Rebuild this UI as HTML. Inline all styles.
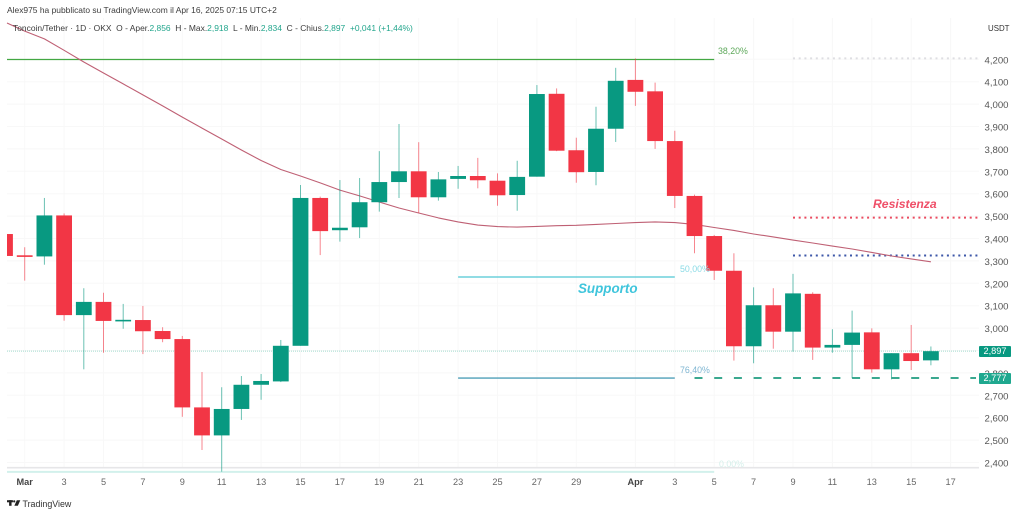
<!DOCTYPE html>
<html lang="it">
<head>
<meta charset="utf-8">
<title>Toncoin/Tether chart</title>
<style>
html,body{margin:0;padding:0;background:#fff;}
#stage{position:relative;width:1024px;height:515px;overflow:hidden;background:#fff;font-family:"Liberation Sans",sans-serif;}
#stage svg{position:absolute;left:0;top:0;}
.t{position:absolute;white-space:nowrap;line-height:12px;}
.g{color:#22a58c;}
</style>
</head>
<body>
<div id="stage">
<svg id="chart" width="1024" height="515" viewBox="0 0 1024 515"></svg>

<div class="t" style="left:7px;top:4px;font-size:8.45px;color:#3c3c3c;">Alex975 ha pubblicato su TradingView.com il Apr 16, 2025 07:15 UTC+2</div>
<div class="t" style="left:13px;top:22px;font-size:8.45px;color:#3c3c3c;">Toncoin/Tether · 1D · OKX &nbsp;O - Aper.<span class="g">2,856</span> &nbsp;H - Max.<span class="g">2,918</span> &nbsp;L - Min.<span class="g">2,834</span> &nbsp;C - Chius.<span class="g">2,897</span> &nbsp;<span class="g">+0,041 (+1,44%)</span></div>
<div class="t" style="left:988px;top:23px;font-size:7.9px;color:#333;">USDT</div>

<div class="t" style="left:718px;top:45px;font-size:8.8px;color:#5da85a;">38,20%</div>
<div class="t" style="left:680px;top:263px;font-size:8.8px;color:#8adbe6;">50,00%</div>
<div class="t" style="left:680px;top:364px;font-size:8.8px;color:#7fb6d2;">76,40%</div>
<div class="t" style="left:719px;top:458px;font-size:8.8px;color:#d4efea;">0,00%</div>

<div class="t" style="left:578px;top:283px;font-size:13.4px;font-weight:bold;font-style:italic;color:#3fc5dc;">Supporto</div>
<div class="t" style="left:873px;top:198px;font-size:12.2px;font-weight:bold;font-style:italic;color:#ef4f68;">Resistenza</div>

<div class="t" style="left:979px;top:346px;width:32px;height:11px;line-height:11px;background:#089981;color:#fff;font-size:9.2px;text-align:center;border-radius:1px;">2,897</div>
<div class="t" style="left:979px;top:373px;width:32px;height:11px;line-height:11px;background:#1fa88f;color:#fff;font-size:9.2px;text-align:center;border-radius:1px;">2,777</div>

<svg width="20" height="10" viewBox="0 0 20 10" style="left:6.5px;top:499px;width:14px;height:8px;">
  <rect x="0" y="1" width="8.5" height="3" fill="#222"/>
  <rect x="3" y="1" width="3.5" height="8" fill="#222"/>
  <circle cx="10.3" cy="2.6" r="1.6" fill="#222"/>
  <polygon points="14,1 19,1 15.5,9 10.5,9" fill="#222"/>
</svg>
<div class="t" style="left:22.5px;top:498px;font-size:8.9px;color:#333;">TradingView</div>
</div>

<script>
const categories = ["Feb 28","Mar 1","Mar 2","Mar 3","Mar 4","Mar 5","Mar 6","Mar 7","Mar 8","Mar 9","Mar 10","Mar 11","Mar 12","Mar 13","Mar 14","Mar 15","Mar 16","Mar 17","Mar 18","Mar 19","Mar 20","Mar 21","Mar 22","Mar 23","Mar 24","Mar 25","Mar 26","Mar 27","Mar 28","Mar 29","Mar 30","Mar 31","Apr 1","Apr 2","Apr 3","Apr 4","Apr 5","Apr 6","Apr 7","Apr 8","Apr 9","Apr 10","Apr 11","Apr 12","Apr 13","Apr 14","Apr 15","Apr 16","Apr 17"];
const opens  = [3420,3325,3320,3503,3058,3117,3032,3036,2987,2951,2646,2521,2639,2747,2762,2921,3581,3437,3450,3562,3652,3700,3584,3666,3679,3658,3594,3676,4046,3794,3697,3890,4108,4057,3835,3590,3411,3256,2919,3102,2984,3153,2913,2925,2981,2816,2888,2856];
const highs  = [3425,3361,3581,3512,3178,3158,3108,3099,3004,2965,2804,2736,2786,2795,2947,3639,3587,3661,3670,3790,3911,3830,3697,3724,3760,3691,3747,4085,4070,3850,3988,4162,4204,4096,3881,3596,3416,3334,3182,3178,3242,3160,2995,3078,2999,2888,3014,2918];
const lows   = [3320,3212,3283,3033,2816,2890,2997,2884,2937,2604,2456,2359,2590,2680,2759,2921,3326,3386,3402,3520,3581,3514,3569,3622,3624,3546,3524,3676,3790,3649,3638,3831,3992,3800,3536,3334,3215,2855,2843,2908,2895,2858,2890,2776,2801,2771,2813,2834];
const closes = [3322,3318,3503,3058,3117,3032,3037,2986,2951,2646,2521,2639,2747,2764,2921,3581,3433,3448,3562,3652,3700,3584,3664,3679,3660,3593,3675,4045,3792,3696,3890,4104,4055,3835,3590,3411,3256,2919,3102,2984,3155,2913,2925,2980,2816,2888,2853,2897];
const maValues = [4362,4326,4291,4240,4188,4139,4090,4041,3992,3942,3893,3844,3795,3748,3708,3679,3648,3616,3590,3563,3536,3514,3492,3474,3460,3453,3451,3454,3457,3459,3463,3467,3471,3474,3471,3463,3449,3436,3420,3407,3393,3380,3366,3353,3338,3322,3309,3296];
const priceTicks = [4200,4100,4000,3900,3800,3700,3600,3500,3400,3300,3200,3100,3000,2900,2800,2700,2600,2500,2400];
const priceTickLabels = ["4,200","4,100","4,000","3,900","3,800","3,700","3,600","3,500","3,400","3,300","3,200","3,100","3,000","","2,800","2,700","2,600","2,500","2,400"];
const dateTicks = ["Mar 1","Mar 3","Mar 5","Mar 7","Mar 9","Mar 11","Mar 13","Mar 15","Mar 17","Mar 19","Mar 21","Mar 23","Mar 25","Mar 27","Mar 29","Apr 1","Apr 3","Apr 5","Apr 7","Apr 9","Apr 11","Apr 13","Apr 15","Apr 17"];
const dateTickLabels = ["Mar","3","5","7","9","11","13","15","17","19","21","23","25","27","29","Apr","3","5","7","9","11","13","15","17"];
const fibPrices = [4199,3228,2777,2358];
const fibStart = ["Feb 28","Mar 23","Mar 23","Feb 28"];
const fibEnd = ["Apr 5","Apr 3","Apr 3","Apr 5"];
const lastPrice = 2897;
const dashedLevel = 2777;
const resistancePrices = [4204,3493,3324];
const lowBand = 2377;

const SVG_NS = "http://www.w3.org/2000/svg";
const svg = document.getElementById("chart");
const UP = "#089981", DOWN = "#F23645";
const LEFT = 7, RIGHT = 979;

function xOf(i){ return 5 + 19.7 * i; }
function xDate(name){ return xOf(categories.indexOf(name)); }
function yOf(p){ return 59.3 + (4200 - p) * 0.224; }
function clampX(x){ return Math.max(LEFT, x); }

function add(tag, attrs, text){
  const el = document.createElementNS(SVG_NS, tag);
  for (const k in attrs) el.setAttribute(k, attrs[k]);
  if (text !== undefined) el.textContent = text;
  svg.appendChild(el);
  return el;
}
function hLine(x1, x2, y, stroke, width, dash, opacity){
  const attrs = {x1:x1, x2:x2, y1:y, y2:y, stroke:stroke, "stroke-width":width};
  if (dash) attrs["stroke-dasharray"] = dash;
  if (opacity) attrs["opacity"] = opacity;
  return add("line", attrs);
}

// grid
priceTicks.forEach(function(p){
  const el = hLine(LEFT, RIGHT, yOf(p), "#f8f8f8", 1);
  
  
});
dateTicks.forEach(function(d){
  const x = xDate(d);
  const el = add("line", {x1:x, x2:x, y1:18, y2:468, stroke:"#f8f8f8", "stroke-width":1});
  
  
});

// horizontal reference lines
const fibColors = ["#43a843","#4fc8d4","#4f9fb8","#d2f1ec"];
const fibWidths = [1.3,1.3,1.3,2];
fibPrices.forEach(function(p, k){
  const el = hLine(clampX(xDate(fibStart[k])), xDate(fibEnd[k]), yOf(p), fibColors[k], fibWidths[k]);
  
  
});
const bandLine = hLine(LEFT, RIGHT, yOf(lowBand), "#e6e6e8", 1.6);



const resistanceColors = ["#dedee2","#ea4a5f","#3d57a8"];
resistancePrices.forEach(function(p, k){
  const el = hLine(xDate("Apr 9"), RIGHT - 1, yOf(p), resistanceColors[k], 2, "2 3.7");
  
  
});

const lastLine = hLine(LEFT, RIGHT - 3, yOf(lastPrice), "#a3dccf", 1, "1 1");



const dashLine = hLine(xDate("Apr 4"), RIGHT - 3, yOf(dashedLevel), "#3aa88f", 2, "8 11.7");



// moving average
const maPoints = maValues.map(function(v, i){ return clampX(xOf(i)) + "," + yOf(v).toFixed(1); }).join(" ");
const maLine = add("polyline", {points:maPoints, fill:"none", stroke:"#bf6074", "stroke-width":1.1, "stroke-linejoin":"round"});



// candles
opens.forEach(function(open, i){
  const close = closes[i];
  const color = close >= open ? UP : DOWN;
  const x = xOf(i);
  if (x >= LEFT) {
    const wick = add("line", {x1:x, x2:x, y1:yOf(highs[i]), y2:yOf(lows[i]), stroke:color, "stroke-width":1, opacity:0.6});
    
    
  }
  const left = clampX(x - 7.9);
  const right = x + 7.9;
  const top = yOf(Math.max(open, close));
  const h = Math.max(1.6, Math.abs(yOf(open) - yOf(close)));
  const body = add("rect", {x:left, y:top, width:right - left, height:h, fill:color});
  
  
});

// axis labels
priceTicks.forEach(function(p, k){
  if (!priceTickLabels[k]) return;
  const el = add("text", {x:996.5, y:yOf(p) + 4, "text-anchor":"middle", "font-family":'"Liberation Sans", sans-serif', "font-size":9.6, fill:"#555"}, priceTickLabels[k]);
  
  
});
dateTicks.forEach(function(d, k){
  const bold = dateTickLabels[k] === "Mar" || dateTickLabels[k] === "Apr";
  const el = add("text", {x:xDate(d), y:485, "text-anchor":"middle", "font-family":'"Liberation Sans", sans-serif', "font-size":9.2, "font-weight":bold ? "bold" : "normal", fill:bold ? "#444" : "#666"}, dateTickLabels[k]);
  
  
});
</script>
</body>
</html>
